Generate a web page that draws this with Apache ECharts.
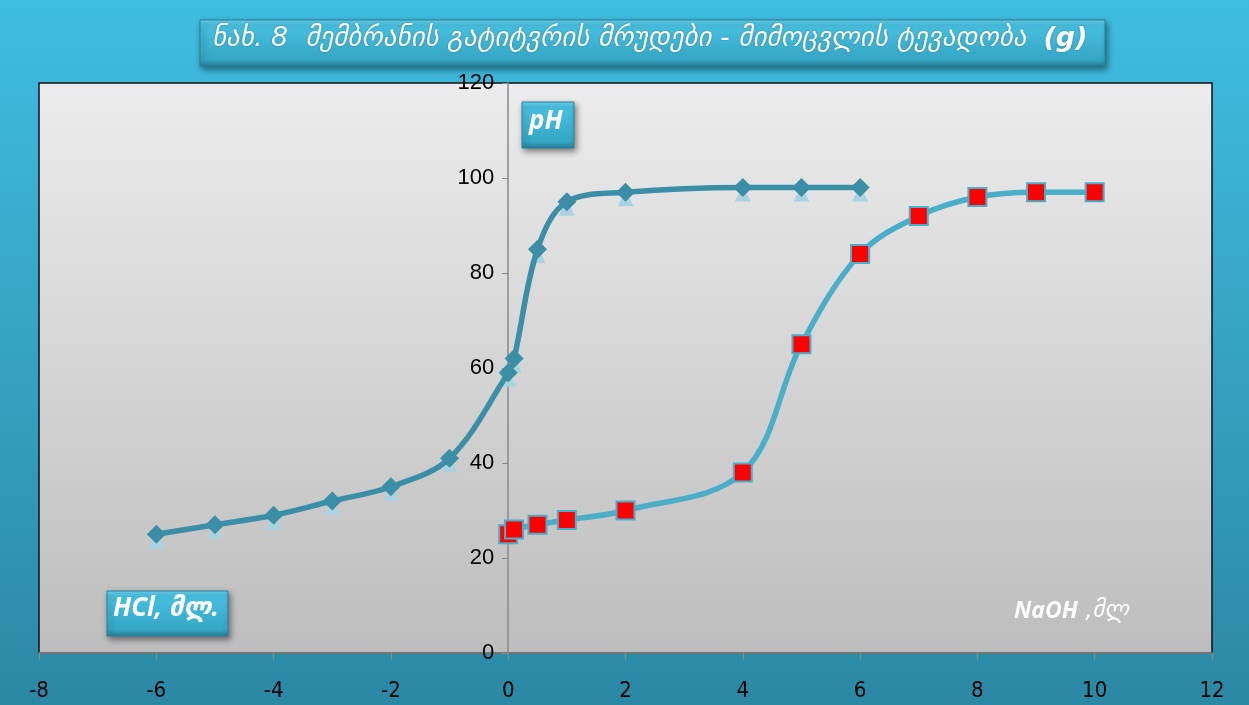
<!DOCTYPE html>
<html>
<head>
<meta charset="utf-8">
<script src="https://cdn.jsdelivr.net/npm/echarts@6/dist/echarts.min.js"></script>
<style>
html,body{margin:0;padding:0;width:1249px;height:705px;overflow:hidden;}
#c{width:1249px;height:705px;}
</style>
</head>
<body>
<div id="c"></div>
<script>
// Data
const hclX = [-6, -5, -4, -3, -2, -1, 0, 0.1, 0.5, 1, 2, 4, 5, 6];
const hclY = [25, 27, 29, 32, 35, 41, 59, 62, 85, 95, 97, 98, 98, 98];
const naohX = [0, 0.1, 0.5, 1, 2, 4, 5, 6, 7, 8, 9, 10];
const naohY = [25, 26, 27, 28, 30, 38, 65, 84, 92, 96, 97, 97];
const xTicks = [-8, -6, -4, -2, 0, 2, 4, 6, 8, 10, 12];
const yTicks = [0, 20, 40, 60, 80, 100, 120];
const titleText = 'ნახ. 8  მემბრანის გატიტვრის მრუდები - მიმოცვლის ტევადობა  ';
const titleBold = '(g)';
const yName = 'pH';
const hclName = 'HCl, მლ.';
const naohName = 'NaOH';
const naohUnit = ' ,მლ';

const zip = (xs, ys) => xs.map((x, i) => [x, ys[i]]);

const W = 1249, GL = 39, GR = 37;
const xMin = xTicks[0], xMax = xTicks[xTicks.length - 1];
const zeroPx = GL + (0 - xMin) / (xMax - xMin) * (W - GL - GR);

const chart = echarts.init(document.getElementById('c'), null, {renderer: 'canvas'});

const boxFill = new echarts.graphic.LinearGradient(0, 0, 0, 1, [
  {offset: 0, color: '#6ad6f2'},
  {offset: 0.12, color: '#48c0e0'},
  {offset: 0.85, color: '#35a6c6'},
  {offset: 1, color: '#277f99'}
]);

function box(x, y, w, h) {
  return {
    type: 'rect',
    shape: {x: x, y: y, width: w, height: h},
    style: {
      fill: boxFill,
      stroke: '#2a7f99',
      lineWidth: 1,
      shadowBlur: 6,
      shadowOffsetX: 2,
      shadowOffsetY: 3,
      shadowColor: 'rgba(0,0,0,0.45)'
    },
    z: 100
  };
}

const option = {
  backgroundColor: new echarts.graphic.LinearGradient(0, 0, 0, 1, [
    {offset: 0, color: '#3fbde1'},
    {offset: 1, color: '#2b88a4'}
  ]),
  animation: false,
  grid: {
    left: GL, right: GR, top: 83, bottom: 52,
    containLabel: false,
    outerBoundsMode: 'none',
    show: true,
    borderColor: '#111',
    borderWidth: 1.5,
    backgroundColor: new echarts.graphic.LinearGradient(0, 0, 0, 1, [
      {offset: 0, color: '#ececec'},
      {offset: 1, color: '#bdbdbd'}
    ])
  },
  xAxis: {
    type: 'value',
    min: xMin, max: xMax, interval: 2,
    splitLine: {show: false},
    axisLine: {show: true, onZero: false, lineStyle: {color: '#8a8a8a', width: 1.5}},
    axisTick: {show: true, length: 7, inside: false, lineStyle: {color: '#8a8a8a'}},
    axisLabel: {color: '#000', fontSize: 22, fontFamily: '"Liberation Sans Narrow", "DejaVu Sans Condensed", sans-serif', margin: 27}
  },
  yAxis: {
    type: 'value',
    position: 'left',
    offset: -(zeroPx - GL),
    min: yTicks[0], max: yTicks[yTicks.length - 1], interval: 20,
    splitLine: {show: false},
    axisLine: {show: true, onZero: false, lineStyle: {color: '#8a8a8a', width: 1.5}},
    axisTick: {show: true, length: 6, lineStyle: {color: '#8a8a8a'}},
    axisLabel: {color: '#000', fontSize: 22, fontFamily: '"Liberation Sans", sans-serif', margin: 14}
  },
  series: [
    {
      type: 'line',
      data: zip(hclX, hclY),
      smooth: 0.35,
      symbol: 'triangle',
      symbolSize: 16,
      symbolOffset: [0, 6],
      lineStyle: {width: 0, opacity: 0},
      itemStyle: {color: '#a8d3e0', borderWidth: 0},
      z: 2
    },
    {
      type: 'line',
      data: zip(hclX, hclY),
      smooth: 0.35,
      symbol: 'diamond',
      symbolSize: 19,
      lineStyle: {width: 5.5, color: '#3a8ea6'},
      itemStyle: {color: '#3a8ea6', borderWidth: 0},
      z: 3
    },
    {
      type: 'line',
      data: zip(naohX, naohY),
      smooth: 0.35,
      symbol: 'rect',
      symbolSize: 18,
      lineStyle: {width: 5.5, color: '#4aaec8'},
      itemStyle: {color: '#ff0000', borderColor: '#4aaec8', borderWidth: 2},
      z: 4
    }
  ],
  graphic: [
    box(200, 20, 905, 46),
    {
      type: 'text',
      left: 212, top: 25,
      z: 101,
      style: {
        text: '{a|' + titleText + '}{b|' + titleBold + '}',
        rich: {
          a: {fontSize: 27, fontStyle: 'italic', fontFamily: '"DejaVu Sans", sans-serif', fill: '#fff', textShadowColor: 'rgba(0,0,0,0.3)', textShadowBlur: 2},
          b: {fontSize: 27, fontStyle: 'italic', fontWeight: 'bold', fontFamily: '"DejaVu Sans", sans-serif', fill: '#fff', textShadowColor: 'rgba(0,0,0,0.3)', textShadowBlur: 2}
        }
      }
    },
    box(522, 102, 52, 46),
    {
      type: 'text',
      left: 529, top: 109,
      z: 101,
      style: {text: yName, fontSize: 26, fontStyle: 'italic', fontWeight: 'bold', fontFamily: '"Open Sans", sans-serif', fill: '#fff'}
    },
    box(107, 591, 121, 45),
    {
      type: 'text',
      left: 113, top: 596,
      z: 101,
      style: {text: hclName, fontSize: 26, fontStyle: 'italic', fontWeight: 'bold', fontFamily: '"Open Sans", "DejaVu Sans", sans-serif', fill: '#fff'}
    },
    {
      type: 'text',
      left: 1014, top: 600,
      z: 101,
      style: {
        text: '{a|' + naohName + '}{b|' + naohUnit + '}',
        rich: {
          a: {fontSize: 23, fontStyle: 'italic', fontWeight: 'bold', fontFamily: '"Open Sans", sans-serif', fill: '#fff'},
          b: {fontSize: 23, fontStyle: 'italic', fontFamily: '"DejaVu Sans", sans-serif', fill: '#fff'}
        }
      }
    }
  ]
};
chart.setOption(option);
</script>
</body>
</html>
